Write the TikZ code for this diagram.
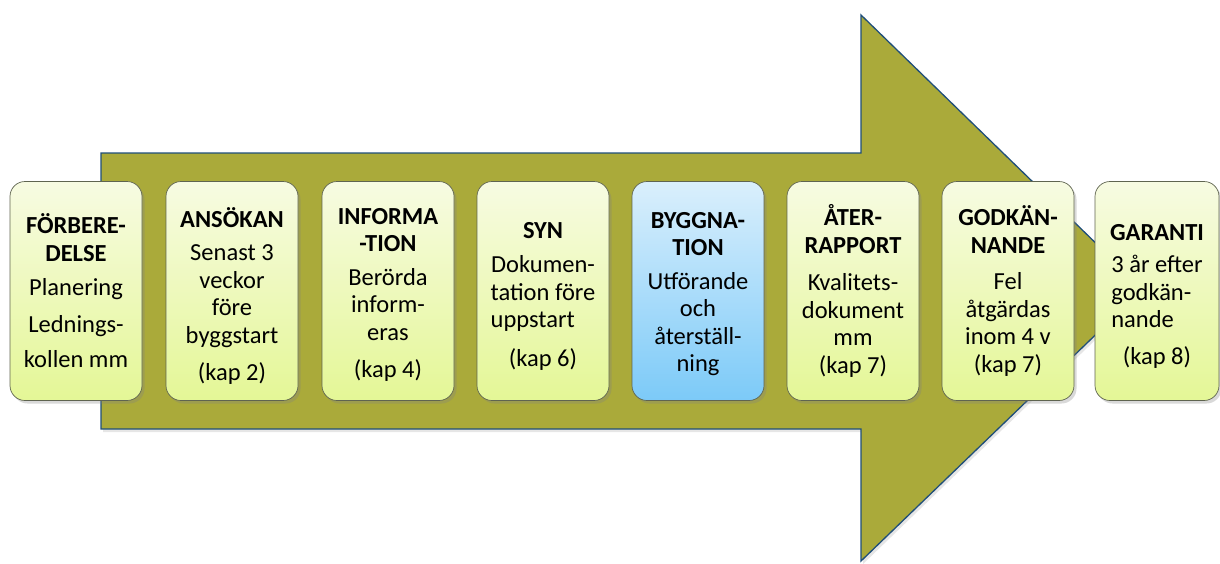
\documentclass[tikz,border=0pt]{standalone}
\usepackage{fontspec}
\setmainfont{Carlito}
\usepackage{calc}
\usetikzlibrary{shadows}
\definecolor{arrowfill}{RGB}{170,170,58}
\definecolor{arrowedge}{RGB}{31,78,121}
\definecolor{boxedge}{RGB}{95,100,80}
\definecolor{boxtop}{RGB}{247,251,226}
\definecolor{boxbot}{RGB}{228,247,150}
\definecolor{bluetop}{RGB}{218,239,252}
\definecolor{bluebot}{RGB}{124,202,248}
\begin{document}
\begin{tikzpicture}[x=1pt,y=-1pt,
  stage/.style={rounded corners=15pt, minimum width=132pt, minimum height=219pt,
    draw=boxedge, line width=0.7pt, top color=boxtop, bottom color=boxbot,
    inner sep=0pt,
    drop shadow={opacity=0.3, shadow xshift=2.5pt, shadow yshift=-3pt}},
  bluestage/.style={stage, top color=bluetop, bottom color=bluebot},
  txt/.style={align=center, inner sep=0pt, text=black,
    font=\fontsize{24.5}{27.5}\selectfont},
  bigarrow/.style={fill=arrowfill, draw=arrowedge, line width=1.3pt, line join=miter,
    drop shadow={opacity=0.2, shadow xshift=2pt, shadow yshift=-3pt}}]
\useasboundingbox (0,0) rectangle (1220,563);

\path[bigarrow] (101,153) -- (861,153) -- (861,15) -- (1143,289) -- (861,561)
  -- (861,429) -- (101,429) -- cycle;

\node[stage] (s1) at (76,291) {};
\node[stage] (s2) at (232,291) {};
\node[stage] (s3) at (388,291) {};
\node[stage] (s4) at (543,291) {};
\node[bluestage] (s5) at (698,291) {};
\node[stage] (s6) at (853,291) {};
\node[stage] (s7) at (1008,291) {};
\node[stage, minimum width=124pt] (s8) at (1157,291) {};

\node[txt] (t1) at (s1.center) {\textbf{FÖRBERE-}\\\textbf{DELSE}\\[7pt]Planering\\[9pt]Lednings-\\[8pt]kollen mm};
\node[txt] (t2) at ([yshift=-5pt]s2.center) {\textbf{ANSÖKAN}\\[6pt]Senast 3\\veckor\\före\\byggstart\\[10pt](kap 2)};
\node[txt] (t3) at ([yshift=-4pt]s3.center) {\textbf{INFORMA}\\\textbf{-TION}\\[6pt]Berörda\\inform-\\eras\\[10pt](kap 4)};
\node[txt] (t4) at ([yshift=-5pt]s4.center) {\textbf{SYN}\\[7pt]Dokumen-\\tation före\\\makebox[\widthof{tation före}][l]{uppstart}\\[11pt](kap 6)};
\node[txt] (t5) at ([yshift=-3pt]s5.center) {\textbf{BYGGNA-}\\\textbf{TION}\\[6pt]Utförande\\och\\återställ-\\ning};
\node[txt] (t6) at (s6.center) {\textbf{ÅTER-}\\\textbf{RAPPORT}\\[10pt]Kvalitets-\\dokument\\mm\\(kap 7)};
\node[txt] (t7) at (s7.center) {\textbf{GODKÄN-}\\\textbf{NANDE}\\[9pt]Fel\\åtgärdas\\inom 4 v\\(kap 7)};
\node[txt] (t8) at ([yshift=-5pt]s8.center) {\textbf{GARANTI}\\[5pt]3 år efter\\\makebox[\widthof{3 år efter}][l]{godkän-}\\\makebox[\widthof{3 år efter}][l]{nande}\\[9pt](kap 8)};
\end{tikzpicture}
\end{document}
